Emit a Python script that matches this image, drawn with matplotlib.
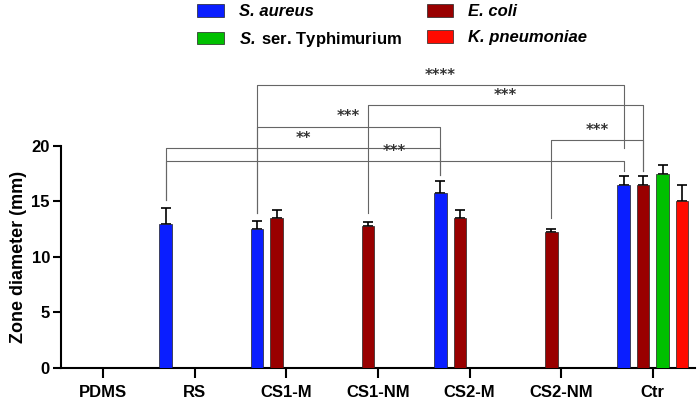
import numpy as np
import matplotlib
matplotlib.use('Agg')
import matplotlib.pyplot as plt

plt.rcParams['font.family'] = 'Liberation Sans'
plt.rcParams['font.weight'] = 'bold'
plt.rcParams['mathtext.fontset'] = 'custom'
plt.rcParams['mathtext.bfit'] = 'Liberation Sans:italic:bold'
plt.rcParams['mathtext.bf'] = 'Liberation Sans:bold'

# Data (nan = no bar)
groups = ['PDMS', 'RS', 'CS1-M', 'CS1-NM', 'CS2-M', 'CS2-NM', 'Ctr']
s_aureus = [np.nan, 13.0, 12.5, np.nan, 15.75, np.nan, 16.5]
s_aureus_err = [0, 1.4, 0.7, 0, 1.05, 0, 0.75]
e_coli = [np.nan, np.nan, 13.5, 12.75, 13.5, 12.2, 16.5]
e_coli_err = [0, 0, 0.7, 0.4, 0.7, 0.35, 0.75]
typhi = [np.nan, np.nan, np.nan, np.nan, np.nan, np.nan, 17.5]
typhi_err = [0, 0, 0, 0, 0, 0, 0.75]
k_pneu = [np.nan, np.nan, np.nan, np.nan, np.nan, np.nan, 15.0]
k_pneu_err = [0, 0, 0, 0, 0, 0, 1.45]

labels = ['S. aureus', 'E. coli', '$\\mathbfit{S.}$\u2009ser. Typhimurium', 'K. pneumoniae']
italic = [True, True, False, True]
colors = ['#0a1eff', '#990000', '#00c000', '#ff0a00']

# significance brackets: (group a, series a, group b, series b, line y, leg end a, leg end b, text)
brackets = [
    (2, 0, 6, 0, 25.45, 13.96, 19.82, '****'),
    (3, 1, 6, 1, 23.63, 13.94, 17.75, '***'),
    (2, 0, 4, 0, 21.73, 13.96, 17.39, '***'),
    (1, 0, 4, 0, 19.82, 15.14, 17.39, '**'),
    (1, 0, 6, 0, 18.65, 15.14, 17.75, '***'),
    (5, 1, 6, 1, 20.48, 13.49, 17.75, '***'),
]

values = [s_aureus, e_coli, typhi, k_pneu]
errors = [s_aureus_err, e_coli_err, typhi_err, k_pneu_err]

width = 0.136
step = 0.213

def bar_x(g, s):
    return g + (s - 1.5) * step

fig = plt.figure(figsize=(6.99, 3.99), dpi=100)
ax = fig.add_axes([0.0873, 0.0777, 0.907, 0.557])

handles = []
for s, (vals, errs) in enumerate(zip(values, errors)):
    idx = [i for i, v in enumerate(vals) if not np.isnan(v)]
    xs = [bar_x(i, s) for i in idx]
    hs = [vals[i] for i in idx]
    es = [errs[i] for i in idx]
    b = ax.bar(xs, hs, width=width, color=colors[s], edgecolor='#222222',
               linewidth=0.5, label=labels[s], zorder=3)
    ax.errorbar(xs, hs, yerr=[np.zeros(len(es)), es], fmt='none', ecolor='black',
                elinewidth=1.2, capsize=3.5, capthick=1.2, zorder=2)
    handles.append(b)

# brackets
for ga, sa, gb, sb, y, ea, eb, txt in brackets:
    xa, xb = bar_x(ga, sa), bar_x(gb, sb)
    ax.plot([xa, xa, xb, xb], [ea, y, y, eb], color='#666666', lw=0.8,
            clip_on=False, zorder=1)
    ax.text((xa + xb) / 2, y + 0.2, txt, ha='center', va='bottom', fontsize=10.5,
            family='DejaVu Sans', fontweight='bold', color='#333333', clip_on=False)

ax.set_xlim(-0.46, 6.46)
ax.set_ylim(0, 20)
ax.set_xticks(range(len(groups)))
ax.set_xticklabels(groups, fontsize=12)
ax.set_yticks([0, 5, 10, 15, 20])
ax.tick_params(axis='y', labelsize=12, length=6, width=1.5, pad=2)
ax.tick_params(axis='x', length=7, width=1.5, pad=5)
ax.set_ylabel('Zone diameter (mm)', fontsize=13, fontweight='bold', labelpad=3)

for side in ['top', 'right']:
    ax.spines[side].set_visible(False)
ax.spines['left'].set_linewidth(1.5)
ax.spines['bottom'].set_linewidth(1.5)

order = [0, 2, 1, 3]
leg = fig.legend([handles[i] for i in order], [labels[i] for i in order],
                 loc='upper center', bbox_to_anchor=(0.561, 1.028), ncol=2, frameon=False,
                 prop={'size': 12, 'weight': 'bold'}, handlelength=1.6, handleheight=0.8,
                 handletextpad=0.9, columnspacing=1.5, labelspacing=0.65)
for t, i in zip(leg.get_texts(), order):
    if italic[i]:
        t.set_fontstyle('italic')

fig.savefig('out.png', dpi=100)
